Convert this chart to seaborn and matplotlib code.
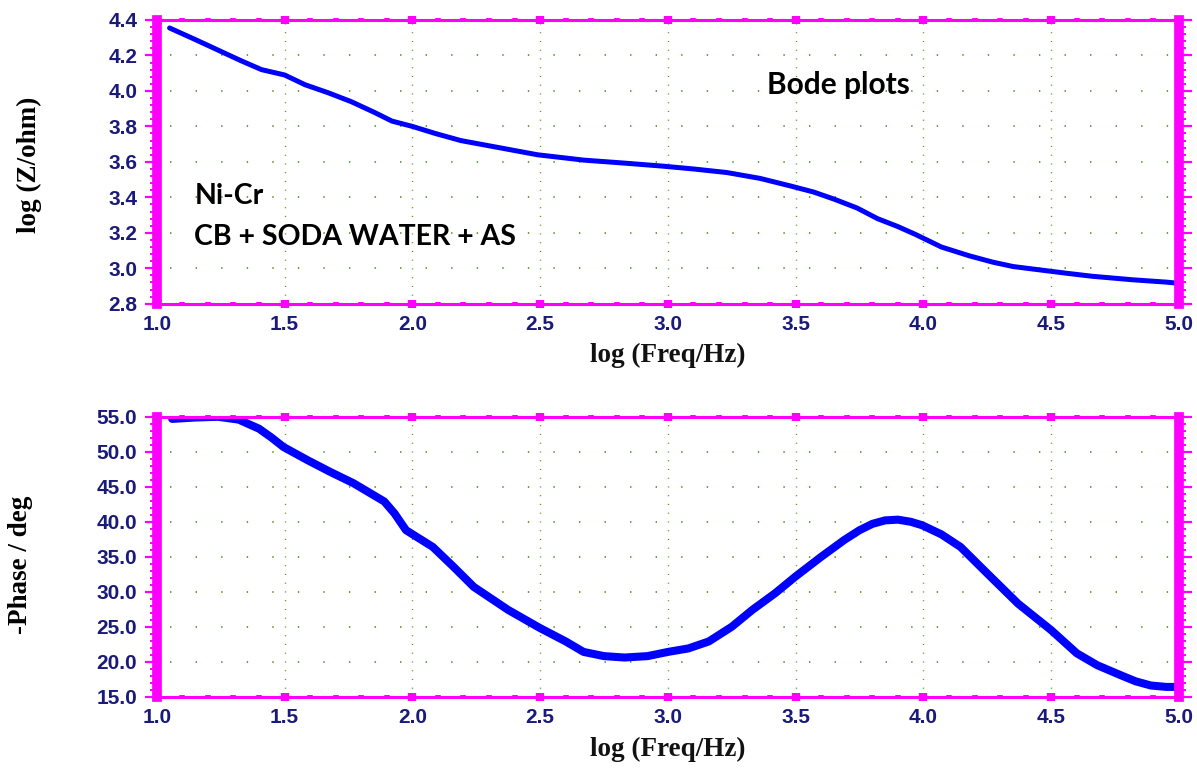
import seaborn as sns
import matplotlib.pyplot as plt
import numpy as np
import pandas as pd
from matplotlib.ticker import MultipleLocator, FormatStrFormatter

# Bode data
log_freq_z = [1.05, 1.15, 1.24, 1.33, 1.41, 1.50, 1.58, 1.67, 1.76, 1.85, 1.92, 2.00,
              2.09, 2.19, 2.34, 2.49, 2.67, 2.83, 2.98, 3.10, 3.23, 3.36, 3.48, 3.57,
              3.65, 3.74, 3.82, 3.90, 3.97, 4.07, 4.18, 4.27, 4.35, 4.46, 4.56, 4.66,
              4.82, 4.95, 5.00]
log_z = [4.355, 4.29, 4.23, 4.17, 4.12, 4.09, 4.035, 3.99, 3.94, 3.88, 3.83, 3.80,
         3.76, 3.72, 3.68, 3.64, 3.61, 3.593, 3.576, 3.56, 3.54, 3.507, 3.464, 3.43,
         3.39, 3.34, 3.28, 3.235, 3.19, 3.12, 3.07, 3.035, 3.01, 2.99, 2.972, 2.955,
         2.935, 2.922, 2.915]

log_freq_ph = [1.06, 1.15, 1.24, 1.32, 1.40, 1.45, 1.495, 1.59, 1.68, 1.77, 1.89, 1.93,
               1.975, 2.08, 2.16, 2.24, 2.375, 2.5, 2.6, 2.67, 2.75, 2.83, 2.92, 3.0,
               3.08, 3.16, 3.25, 3.33, 3.42, 3.50, 3.60, 3.69, 3.75, 3.80, 3.85, 3.90,
               3.95, 3.995, 4.07, 4.145, 4.25, 4.37, 4.50, 4.60, 4.68, 4.77, 4.83, 4.89,
               4.95, 5.0]
phase = [54.7, 54.9, 55.0, 54.6, 53.3, 52.0, 50.7, 48.8, 47.1, 45.5, 42.9, 41.2,
         38.8, 36.4, 33.6, 30.7, 27.4, 24.8, 22.9, 21.4, 20.8, 20.6, 20.8, 21.4,
         21.9, 22.9, 25.0, 27.4, 29.8, 32.2, 35.0, 37.4, 38.8, 39.7, 40.2, 40.3,
         40.0, 39.5, 38.2, 36.4, 32.6, 28.3, 24.5, 21.2, 19.5, 18.1, 17.2, 16.6,
         16.4, 16.4]

df_z = pd.DataFrame({'logf': log_freq_z, 'logz': log_z})
df_ph = pd.DataFrame({'logf': log_freq_ph, 'phase': phase})

sns.set_style('white')
plt.rcParams['lines.scale_dashes'] = False

MAGENTA = '#ff00ff'
NAVY = '#1a1a7a'
GRIDC = '#5a9a2a'

fig = plt.figure(figsize=(11.97, 7.69), dpi=100)
ax1 = fig.add_axes([0.131, 0.605, 0.854, 0.369])
ax2 = fig.add_axes([0.131, 0.094, 0.854, 0.364])

sns.lineplot(data=df_z, x='logf', y='logz', ax=ax1, color='#0000ff', linewidth=3.6,
             solid_capstyle='round', solid_joinstyle='round')
sns.lineplot(data=df_ph, x='logf', y='phase', ax=ax2, color='#0000ff', linewidth=5.8,
             solid_capstyle='round', solid_joinstyle='round')

ax1.set_ylim(2.8, 4.4)
ax2.set_ylim(15, 55)
ax1.yaxis.set_major_locator(MultipleLocator(0.2))
ax1.yaxis.set_minor_locator(MultipleLocator(0.04))
ax1.yaxis.set_major_formatter(FormatStrFormatter('%.1f'))
ax2.yaxis.set_major_locator(MultipleLocator(5))
ax2.yaxis.set_minor_locator(MultipleLocator(1))
ax2.yaxis.set_major_formatter(FormatStrFormatter('%.1f'))

for ax in (ax1, ax2):
    ax.set_xlim(1.0, 5.0)
    ax.xaxis.set_major_locator(MultipleLocator(0.5))
    ax.xaxis.set_minor_locator(MultipleLocator(0.1))
    ax.xaxis.set_major_formatter(FormatStrFormatter('%.1f'))
    # dotted grid: vertical lines at major x, dot rows at major y
    ax.grid(False)
    ax.xaxis.grid(True, which='major', color=GRIDC, linewidth=1.0, linestyle=(0, (0.8, 5.5)))
    ax.yaxis.grid(True, which='major', color=GRIDC, linewidth=1.3, linestyle=(9, (1.0, 17.4)))
    ax.set_axisbelow(True)
    for side in ('left', 'right'):
        ax.spines[side].set_color(MAGENTA)
        ax.spines[side].set_linewidth(7)
    for side in ('top', 'bottom'):
        ax.spines[side].set_color(MAGENTA)
        ax.spines[side].set_linewidth(2.2)
    ax.tick_params(axis='y', which='major', direction='out', length=9, width=1.6,
                   color=MAGENTA, left=True, right=True, labelleft=True, pad=5,
                   labelsize=15, labelcolor=NAVY)
    ax.tick_params(axis='y', which='minor', direction='out', length=5, width=1.4,
                   color=MAGENTA, left=True, right=True)
    ax.tick_params(axis='x', which='major', direction='inout', length=6, width=6,
                   color=MAGENTA, top=True, bottom=True, pad=5,
                   labelsize=15, labelcolor=NAVY)
    ax.tick_params(axis='x', which='minor', direction='inout', length=3.5, width=4,
                   color=MAGENTA, top=True, bottom=True)
    for lbl in ax.get_xticklabels() + ax.get_yticklabels():
        lbl.set_fontweight('bold')
        lbl.set_family('Liberation Sans')
    ax.set_xlabel('log (Freq/Hz)', fontsize=19.5, fontweight='bold',
                  family='Liberation Serif', color='#111111')

ax1.xaxis.set_label_coords(0.5, -0.137)
ax2.xaxis.set_label_coords(0.5, -0.144)

ax1.set_ylabel('log (Z/ohm)', fontsize=19.5, fontweight='bold', family='Liberation Serif',
               color='black')
ax1.yaxis.set_label_coords(-0.1125, 0.49)
ax2.set_ylabel('-Phase / deg', fontsize=19.5, fontweight='bold', family='Liberation Serif',
               color='black')
ax2.yaxis.set_label_coords(-0.121, 0.47)

ax1.text(1.147, 3.407, 'Ni-Cr', fontsize=20.5, fontweight='bold', family='Lato',
         va='center', ha='left', color='black')
ax1.text(1.147, 3.177, 'CB + SODA WATER + AS', fontsize=20.5, fontweight='bold',
         family='Lato', va='center', ha='left', color='black')
ax1.text(3.387, 4.035, 'Bode plots', fontsize=21.5, fontweight='bold', family='Lato',
         va='center', ha='left', color='black')

fig.savefig('out.png', dpi=100)
